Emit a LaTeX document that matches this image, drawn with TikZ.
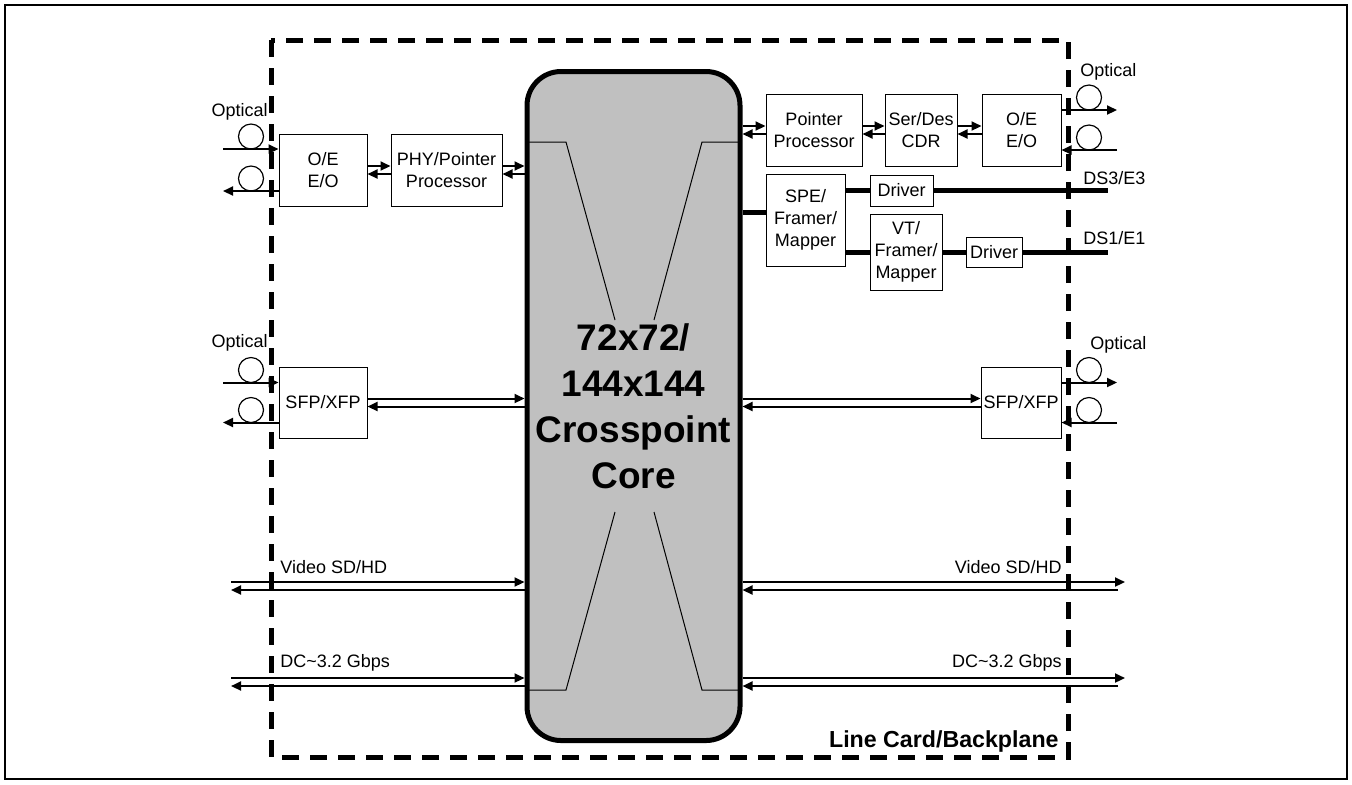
\documentclass[tikz,border=0pt]{standalone}
\usepackage{fontspec}
\setmainfont{Liberation Sans}
\usetikzlibrary{arrows.meta,positioning,calc}
\definecolor{coregray}{RGB}{192,192,192}

\begin{document}
\begin{tikzpicture}[x=0.5pt, y=-0.5pt,
    box/.style={draw, line width=0.5pt, inner sep=1pt, align=center,
                font=\fontsize{9}{11}\selectfont},
    lbl/.style={inner sep=0pt, font=\fontsize{9}{11}\selectfont},
    sig/.style={line width=1pt, -{Triangle[length=5pt,width=4.5pt]}},
    bus/.style={line width=2.5pt},
    fiber/.style={draw, circle, line width=0.6pt, minimum size=12.5pt, inner sep=0pt}
]
    \useasboundingbox (0,0) rectangle (1352,784);
    \draw[line width=1pt] (5,5) rectangle (1347,779);

    % line card border
    \draw[line width=2.5pt, dash pattern=on 8.5pt off 5.5pt] (271,40) rectangle (1068,757);
    \node[font=\fontsize{11.6}{13}\selectfont\bfseries, anchor=east, inner sep=0pt] (card) at (1059,741) {Line Card/Backplane};

    % crosspoint core
    \node[draw, line width=2.5pt, fill=coregray, rounded corners=17pt,
          minimum width=106.5pt, minimum height=334.5pt, inner sep=0pt, align=center,
          font=\fontsize{18.5}{23}\selectfont\bfseries] (core) at (633.5,406)
          {72x72/\\144x144\\Crosspoint\\Core};
    \draw[line width=0.5pt] (528,142) -- (566,142) -- (615,320);
    \draw[line width=0.5pt] (739,142) -- (702,142) -- (654,320);
    \draw[line width=0.5pt] (528,690) -- (566,690) -- (615,512);
    \draw[line width=0.5pt] (739,690) -- (702,690) -- (654,512);

    % left side blocks
    \node[box, minimum width=44pt, minimum height=36pt] (oel) at (323,170) {O/E\\E/O};
    \node[box, minimum width=55.5pt, minimum height=36pt] (phy) at (446.5,170) {PHY/Pointer\\Processor};
    \node[box, minimum width=44pt, minimum height=35.5pt] (sfpl) at (323,402.5) {SFP/XFP};

    % right side blocks
    \node[box, minimum width=48pt, minimum height=36pt] (ptr) at (814,130) {Pointer\\Processor};
    \node[box, minimum width=36pt, minimum height=36pt] (serdes) at (921,130) {Ser/Des\\CDR};
    \node[box, minimum width=39.5pt, minimum height=36pt] (oer) at (1021.5,130) {O/E\\E/O};
    \node[box, minimum width=39.5pt, minimum height=46pt] (spe) at (805.5,220) {SPE/\\Framer/\\Mapper};
    \node[box, minimum width=31.5pt, minimum height=15.5pt] (drv1) at (901.5,190.5) {Driver};
    \node[box, minimum width=36pt, minimum height=38pt] (vt) at (906,252) {VT/\\Framer/\\Mapper};
    \node[box, minimum width=28pt, minimum height=15pt] (drv2) at (994,252) {Driver};
    \node[box, minimum width=40pt, minimum height=35.5pt] (sfpr) at (1021,402.5) {SFP/XFP};

    % free ends
    \coordinate (fin1) at (223,149);
    \coordinate (fout1) at (223,191);
    \coordinate (fin2) at (223,382.5);
    \coordinate (fout2) at (223,422.5);
    \coordinate (fout3) at (1117,110);
    \coordinate (fin3) at (1117,150);
    \coordinate (fout4) at (1117,382.5);
    \coordinate (fin4) at (1117,422.5);
    \coordinate (ds3end) at (1108,190.5);
    \coordinate (ds1end) at (1108,252);
    \coordinate (vidl) at (231,586);
    \coordinate (vidr) at (1125,586);
    \coordinate (dcl) at (231,682);
    \coordinate (dcr) at (1125,682);

    % optical ports
    \node[fiber] (f1) at (251,136.5) {};
    \node[fiber] (f2) at (251,178.5) {};
    \node[fiber] (f3) at (251,370) {};
    \node[fiber] (f4) at (251,410) {};
    \node[fiber] (f5) at (1089,97.5) {};
    \node[fiber] (f6) at (1089,137.5) {};
    \node[fiber] (f7) at (1089,370) {};
    \node[fiber] (f8) at (1089,410) {};
    \node[lbl, anchor=east] (opt1) at (268,112) {Optical};
    \node[lbl, anchor=east] (opt2) at (268,343) {Optical};
    \node[lbl, anchor=west] (opt3) at (1080,72) {Optical};
    \node[lbl, anchor=west] (opt4) at (1090,345) {Optical};

    \draw[sig] (fin1) -- (fin1 -| oel.west);
    \draw[sig] (fout1 -| oel.west) -- (fout1);
    \draw[sig] (fin2) -- (fin2 -| sfpl.west);
    \draw[sig] (fout2 -| sfpl.west) -- (fout2);
    \draw[sig] (fout3 -| oer.east) -- (fout3);
    \draw[sig] (fin3) -- (fin3 -| oer.east);
    \draw[sig] (fout4 -| sfpr.east) -- (fout4);
    \draw[sig] (fin4) -- (fin4 -| sfpr.east);

    % left chain
    \draw[sig] ([yshift=2pt]oel.east) -- ([yshift=2pt]phy.west);
    \draw[sig] ([yshift=-2pt]phy.west) -- ([yshift=-2pt]oel.east);
    \draw[sig] ([yshift=2pt]phy.east) -- ([yshift=2pt]phy.east -| core.west);
    \draw[sig] ([yshift=-2pt]phy.east -| core.west) -- ([yshift=-2pt]phy.east);
    \draw[sig] ([yshift=2pt]sfpl.east) -- ([yshift=2pt]sfpl.east -| core.west);
    \draw[sig] ([yshift=-2pt]sfpl.east -| core.west) -- ([yshift=-2pt]sfpl.east);

    % right chain
    \draw[sig] ([yshift=2pt]ptr.west -| core.east) -- ([yshift=2pt]ptr.west);
    \draw[sig] ([yshift=-2pt]ptr.west) -- ([yshift=-2pt]ptr.west -| core.east);
    \draw[sig] ([yshift=2pt]ptr.east) -- ([yshift=2pt]serdes.west);
    \draw[sig] ([yshift=-2pt]serdes.west) -- ([yshift=-2pt]ptr.east);
    \draw[sig] ([yshift=2pt]serdes.east) -- ([yshift=2pt]oer.west);
    \draw[sig] ([yshift=-2pt]oer.west) -- ([yshift=-2pt]serdes.east);
    \draw[sig] ([yshift=2pt]sfpr.west -| core.east) -- ([yshift=2pt]sfpr.west);
    \draw[sig] ([yshift=-2pt]sfpr.west) -- ([yshift=-2pt]sfpr.west -| core.east);

    % tributaries
    \draw[bus] ([yshift=4pt]spe.west -| core.east) -- ([yshift=4pt]spe.west);
    \draw[bus] (spe.east |- drv1.west) -- (drv1.west);
    \draw[bus] (drv1.east) -- (ds3end);
    \draw[bus] (spe.east |- vt.west) -- (vt.west);
    \draw[bus] (vt.east) -- (drv2.west);
    \draw[bus] (drv2.east) -- (ds1end);
    \node[lbl, anchor=west] (ds3) at (1083,178) {DS3/E3};
    \node[lbl, anchor=west] (ds1) at (1083,238) {DS1/E1};

    % video and data lanes
    \draw[sig] ([yshift=2pt]vidl) -- ([yshift=2pt]vidl -| core.west);
    \draw[sig] ([yshift=-2pt]vidl -| core.west) -- ([yshift=-2pt]vidl);
    \draw[sig] ([yshift=2pt]vidr -| core.east) -- ([yshift=2pt]vidr);
    \draw[sig] ([xshift=-3.5pt,yshift=-2pt]vidr) -- ([yshift=-2pt]vidr -| core.east);
    \draw[sig] ([yshift=2pt]dcl) -- ([yshift=2pt]dcl -| core.west);
    \draw[sig] ([yshift=-2pt]dcl -| core.west) -- ([yshift=-2pt]dcl);
    \draw[sig] ([yshift=2pt]dcr -| core.east) -- ([yshift=2pt]dcr);
    \draw[sig] ([xshift=-3.5pt,yshift=-2pt]dcr) -- ([yshift=-2pt]dcr -| core.east);
    \node[lbl, anchor=west] (vid1) at (280,567) {Video SD/HD};
    \node[lbl, anchor=east] (vid2) at (1062,567) {Video SD/HD};
    \node[lbl, anchor=west] (dc1) at (280,663) {DC\textasciitilde3.2 Gbps};
    \node[lbl, anchor=east] (dc2) at (1062,663) {DC\textasciitilde3.2 Gbps};
\end{tikzpicture}
\end{document}
